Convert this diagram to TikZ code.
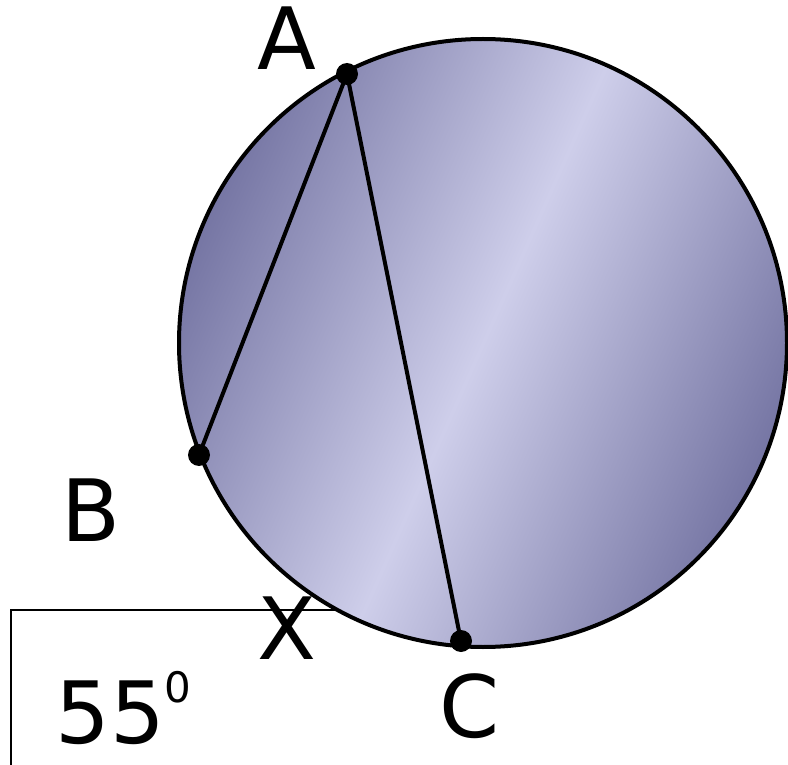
\documentclass[tikz,border=0pt]{standalone}
\usepackage{fontspec}
\setmainfont{DejaVu Sans}
\definecolor{circdark}{RGB}{118,118,164}
\definecolor{circlight}{RGB}{206,206,234}

\begin{document}
\begin{tikzpicture}[x=0.5pt, y=-0.5pt,
		chord/.style={line width=2pt},
		ptdot/.style={circle, fill=black, inner sep=0pt, minimum size=11pt},
		ptlabel/.style={inner sep=0pt, font=\fontsize{43}{43}\selectfont}
	]
		\useasboundingbox (0,0) rectangle (788,765);
		% angle box behind the circle
		\draw[line width=1pt] (11,765) -- (11,610) -- (360,610);
		\coordinate (O) at (483,343);
		\draw[chord, left color=circdark, right color=circdark, middle color=circlight,
			shading angle=66] (O) circle (152pt);
		\node[ptdot] (A) at (347,74) {};
		\node[ptdot] (B) at (199,455) {};
		\node[ptdot] (C) at (461,641) {};
		\draw[chord] (A.center) -- (B.center);
		\draw[chord] (A.center) -- (C.center);
		\node[ptlabel] (lblA) at (287,38.5) {A};
		\node[ptlabel] (lblB) at (91,510) {B};
		\node[ptlabel] (lblX) at (287,628) {X};
		\node[ptlabel] (lblC) at (470,706) {C};
		\node[ptlabel, anchor=base west] (lblAngle) at (55,743)
			{55{\fontsize{21}{21}\selectfont\raisebox{20.5pt}{0}}};
	\end{tikzpicture}
\end{document}
